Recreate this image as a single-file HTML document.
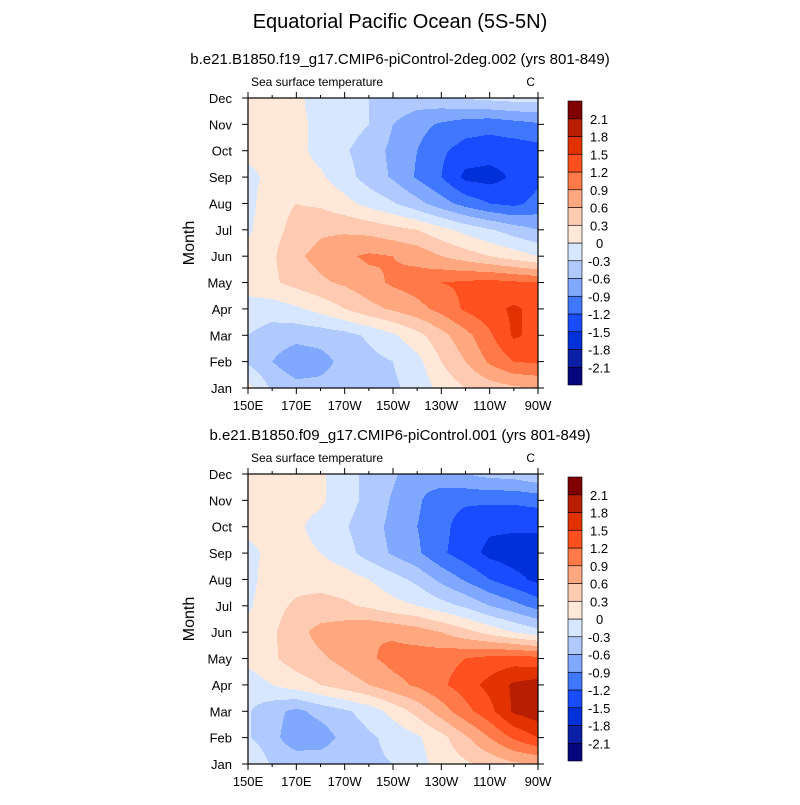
<!DOCTYPE html>
<html><head><meta charset="utf-8">
<style>
body{margin:0;background:#fff;}
svg text{font-family:"Liberation Sans",sans-serif;fill:#000;}
</style></head>
<body>
<svg id="root" width="800" height="800" viewBox="0 0 800 800">
<text x="400" y="28" font-size="20" text-anchor="middle">Equatorial Pacific Ocean (5S-5N)</text>
</svg>
<script>
// Chart data
const months = ['Jan','Feb','Mar','Apr','May','Jun','Jul','Aug','Sep','Oct','Nov','Dec'];
const lons = [150,160,170,180,190,200,210,220,230,240,250,260,270];
const xTickLabels = ['150E','170E','170W','150W','130W','110W','90W'];
const xTickLons = [150,170,190,210,230,250,270];
const levels = [-2.1,-1.8,-1.5,-1.2,-0.9,-0.6,-0.3,0,0.3,0.6,0.9,1.2,1.5,1.8,2.1];
const levelLabels = ['-2.1','-1.8','-1.5','-1.2','-0.9','-0.6','-0.3','0','0.3','0.6','0.9','1.2','1.5','1.8','2.1'];
const colors = ['#06067e','#0a1fa6','#0031d8','#1a4cff','#4077ff','#80a8ff','#b0caff','#d6e7ff','#ffe8d8','#ffcab2','#ffa880','#ff7a48','#ff5020','#e23200','#b81e00','#800000'];
const titles = ['b.e21.B1850.f19_g17.CMIP6-piControl-2deg.002 (yrs 801-849)','b.e21.B1850.f09_g17.CMIP6-piControl.001 (yrs 801-849)'];
const sstTop = [
[0.1,-0.35,-0.5,-0.5,-0.45,-0.45,-0.35,-0.2,0.1,0.3,0.45,0.55,0.6],
[-0.35,-0.6,-0.8,-0.72,-0.5,-0.4,-0.3,-0.1,0.3,0.6,0.95,1.2,1.25],
[-0.3,-0.45,-0.5,-0.47,-0.4,-0.25,-0.05,0.2,0.5,0.8,1.15,1.55,1.4],
[-0.1,-0.15,-0.05,0.1,0.3,0.5,0.65,0.8,1.0,1.25,1.4,1.55,1.4],
[0.1,0.25,0.4,0.55,0.65,0.8,0.95,1.05,1.2,1.25,1.3,1.25,1.2],
[0.1,0.25,0.55,0.7,0.85,0.95,0.9,0.8,0.6,0.45,0.3,0.15,0.0],
[-0.05,0.2,0.4,0.55,0.55,0.5,0.4,0.3,0.1,-0.1,-0.27,-0.45,-0.6],
[-0.1,0.2,0.3,0.25,0.1,-0.1,-0.27,-0.5,-0.77,-1.02,-1.2,-1.28,-1.1],
[-0.1,0.1,0.1,0.05,-0.18,-0.43,-0.64,-0.94,-1.2,-1.58,-1.62,-1.45,-1.28],
[0.1,0.15,0.1,-0.1,-0.27,-0.43,-0.68,-0.9,-1.15,-1.32,-1.36,-1.36,-1.32],
[0.1,0.1,0.05,-0.05,-0.18,-0.3,-0.6,-0.8,-0.94,-1.06,-1.1,-1.02,-0.94],
[0.1,0.1,0.05,-0.1,-0.18,-0.3,-0.38,-0.43,-0.38,-0.27,-0.22,-0.18,-0.18]];
const sstBottom = [
[0.05,-0.35,-0.4,-0.4,-0.35,-0.35,-0.3,-0.1,0.1,0.25,0.4,0.55,0.6],
[-0.27,-0.5,-0.8,-0.77,-0.5,-0.35,-0.22,-0.05,0.2,0.55,0.9,1.25,1.5],
[-0.27,-0.5,-0.68,-0.5,-0.35,-0.18,0.1,0.4,0.75,1.1,1.4,1.85,2.0],
[-0.18,0.0,0.15,0.3,0.45,0.6,0.8,0.95,1.15,1.35,1.6,1.85,1.95],
[0.1,0.25,0.45,0.55,0.7,0.85,1.0,1.05,1.1,1.2,1.3,1.35,1.3],
[0.1,0.25,0.5,0.7,0.8,0.9,0.85,0.75,0.6,0.4,0.2,0.0,-0.18],
[-0.05,0.2,0.35,0.4,0.35,0.25,0.1,0.0,-0.18,-0.35,-0.6,-0.8,-1.02],
[-0.1,0.15,0.2,0.2,0.15,0.0,-0.18,-0.38,-0.68,-0.94,-1.2,-1.4,-1.58],
[-0.1,0.1,0.1,0.0,-0.18,-0.43,-0.64,-0.85,-1.15,-1.36,-1.58,-1.66,-1.66],
[0.1,0.1,0.05,-0.1,-0.27,-0.47,-0.68,-0.9,-1.1,-1.36,-1.45,-1.45,-1.45],
[0.1,0.1,0.1,0.05,-0.18,-0.38,-0.64,-0.85,-1.1,-1.15,-1.15,-1.15,-1.1],
[0.1,0.1,0.1,0.05,-0.18,-0.38,-0.55,-0.8,-0.68,-0.6,-0.5,-0.47,-0.34]];

const NS='http://www.w3.org/2000/svg';
const root=document.getElementById('root');
function mk(tag,attrs,parent,text){const e=document.createElementNS(NS,tag);for(const k in attrs)e.setAttribute(k,attrs[k]);if(text!==undefined)e.textContent=text;(parent||root).appendChild(e);return e;}
function colorIdx(v){let i=0;while(i<levels.length&&v>=levels[i])i++;return i;}

function panel(data,top,title,pi){
  const L=248,R=538,T=top,B=top+290,W=R-L,H=B-T;
  const g=mk('g',{});
  
  
  const xs=lon=>L+(lon-lons[0])/(lons[lons.length-1]-lons[0])*W;
  const ys=m=>B-m/(months.length-1)*H;
  const st=mk('text',{x:400,y:T-34,'font-size':15,'text-anchor':'middle'},g,title);
  
  
  const lt=mk('text',{x:L+3,y:T-12,'font-size':12},g,'Sea surface temperature');
  
  
  const ut=mk('text',{x:R-3,y:T-12,'font-size':12,'text-anchor':'end'},g,'C');
  
  
  const cg=mk('g',{'shape-rendering':'crispEdges'},g);
  
  
  const nr=months.length-1,nc=lons.length-1;
  for(let py=0;py<H;py++){
    const m=(B-(T+py+0.5))/H*nr;
    const r0=Math.min(Math.floor(m),nr-1),fr=m-r0;
    let runStart=0,runC=-1;
    for(let px=0;px<=W;px++){
      let ci=-1;
      if(px<W){
        const c=(px+0.5)/W*nc;const c0=Math.min(Math.floor(c),nc-1),fc=c-c0;
        const v=(data[r0][c0]*(1-fc)+data[r0][c0+1]*fc)*(1-fr)+(data[r0+1][c0]*(1-fc)+data[r0+1][c0+1]*fc)*fr;
        ci=colorIdx(v);
      }
      if(ci!==runC){
        if(runC>=0){const rc=mk('rect',{x:L+runStart,y:T+py,width:px-runStart,height:1,fill:colors[runC]},cg);
          
          }
        runStart=px;runC=ci;
      }
    }
  }
  mk('rect',{x:L,y:T,width:W,height:H,fill:'none',stroke:'#000','stroke-width':1.2},g);
  months.forEach((mn,i)=>{
    const y=ys(i);
    mk('line',{x1:L-6,x2:L,y1:y,y2:y,stroke:'#000'},g);
    mk('line',{x1:R,x2:R+6,y1:y,y2:y,stroke:'#000'},g);
    const t=mk('text',{x:L-16,y:y+5,'font-size':13,'text-anchor':'end'},g,mn);
    
    
  });
  for(let lon=150;lon<=270;lon+=10){
    const x=xs(lon),len=(lon-150)%20===0?6:3;
    mk('line',{x1:x,x2:x,y1:B,y2:B+len,stroke:'#000'},g);
    mk('line',{x1:x,x2:x,y1:T-len,y2:T,stroke:'#000'},g);
  }
  xTickLabels.forEach((lb,i)=>{
    const t=mk('text',{x:xs(xTickLons[i]),y:B+22,'font-size':13,'text-anchor':'middle'},g,lb);
    
    
  });
  const yt=mk('text',{x:0,y:0,'font-size':16,'text-anchor':'middle',transform:`translate(194,${(T+B)/2}) rotate(-90)`},g,'Month');
  
  
  const cb=mk('g',{},g);
  
  
  const cT=T+3,cB=B-3,cH=(cB-cT)/colors.length;
  colors.forEach((c,i)=>{
    const r=mk('rect',{x:568,y:cB-(i+1)*cH,width:14,height:cH,fill:c,stroke:'#000','stroke-width':0.6},cb);
    
    
  });
  levelLabels.forEach((lb,i)=>{
    const x = lb.startsWith('-') ? 588 : (lb==='0' ? 596 : 590);
    const t=mk('text',{x:x,y:cB-(i+1)*cH+5,'font-size':13},cb,lb);
    
    
  });
}
panel(sstTop,98,titles[0],0);
panel(sstBottom,474,titles[1],1);
</script>
</body></html>
